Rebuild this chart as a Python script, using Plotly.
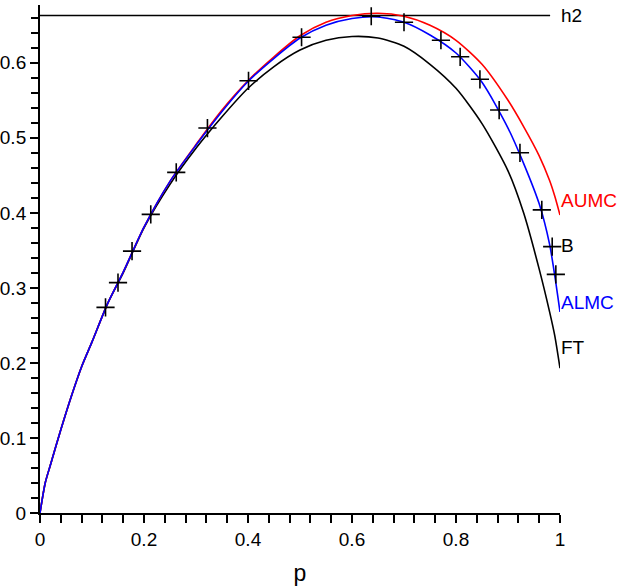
import plotly.graph_objects as go

# curve samples
p = [0, 0.01, 0.02, 0.04, 0.06, 0.08, 0.10, 0.13, 0.16, 0.20, 0.25, 0.30, 0.35,
     0.40, 0.45, 0.50, 0.55, 0.60, 0.65, 0.70, 0.75, 0.80, 0.85, 0.90, 0.93,
     0.96, 0.98, 0.99, 1.0]
aumc = [0, 0.040, 0.064, 0.111, 0.155, 0.195, 0.228, 0.279, 0.321, 0.381, 0.442, 0.491, 0.537,
        0.576, 0.608, 0.636, 0.654, 0.663, 0.666, 0.662, 0.650, 0.630, 0.598, 0.550, 0.515,
        0.476, 0.443, 0.422, 0.397]
almc = [0, 0.040, 0.064, 0.111, 0.155, 0.195, 0.228, 0.279, 0.321, 0.381, 0.442, 0.490, 0.535,
        0.575, 0.606, 0.633, 0.650, 0.659, 0.661, 0.654, 0.637, 0.613, 0.574, 0.513, 0.466,
        0.412, 0.358, 0.316, 0.268]
ft = [0, 0.040, 0.064, 0.111, 0.155, 0.195, 0.228, 0.279, 0.320, 0.380, 0.438, 0.486, 0.528,
      0.566, 0.595, 0.617, 0.630, 0.635, 0.633, 0.622, 0.598, 0.566, 0.519, 0.456, 0.400,
      0.325, 0.268, 0.236, 0.193]

# B points
b_p = [0.126, 0.150, 0.177, 0.213, 0.262, 0.322, 0.401, 0.503, 0.637, 0.700, 0.771,
       0.808, 0.846, 0.883, 0.923, 0.965, 0.985, 0.992]
b_y = [0.274, 0.307, 0.349, 0.398, 0.454, 0.513, 0.576, 0.634, 0.662, 0.654, 0.630,
       0.608, 0.578, 0.537, 0.480, 0.404, 0.355, 0.318]

h2 = 0.663

FONT = "Liberation Sans, Arial, sans-serif"

fig = go.Figure()
fig.add_trace(go.Scatter(x=[0, 0.981], y=[h2, h2], mode="lines",
                         line=dict(color="black", width=1.6), cliponaxis=False))
for ys, col in [(ft, "black"), (aumc, "#ff0000"), (almc, "#0000ff")]:
    fig.add_trace(go.Scatter(x=p, y=ys, mode="lines", cliponaxis=False,
                             line=dict(color=col, width=1.6, shape="spline", smoothing=0.7)))
fig.add_trace(go.Scatter(x=b_p, y=b_y, mode="markers", cliponaxis=False,
                         marker=dict(symbol="cross-thin", size=13, color="black",
                                     line=dict(color="black", width=1.6))))

# labels at curve ends
labels = [("h2", h2, "black"), ("AUMC", 0.417, "#ff0000"), ("B", 0.356, "black"),
          ("ALMC", 0.280, "#0000ff"), ("FT", 0.220, "black")]
for txt, yv, col in labels:
    fig.add_annotation(x=1.0, y=yv, text=txt, showarrow=False, xanchor="left",
                       xshift=-1, font=dict(family=FONT, size=19, color=col))

fig.update_layout(
    width=623, height=586,
    margin=dict(l=40, r=63, t=5, b=73),
    plot_bgcolor="white", paper_bgcolor="white",
    showlegend=False,
    font=dict(family=FONT, size=19, color="black"),
)
fig.update_xaxes(range=[0, 1], showgrid=False, zeroline=False, automargin=False,
                 showline=True, linecolor="black", linewidth=2,
                 ticks="outside", tickcolor="black", ticklen=8, tickwidth=2,
                 tickvals=[0, 0.2, 0.4, 0.6, 0.8, 1],
                 ticktext=["0", "0.2", "0.4", "0.6", "0.8", "1"],
                 minor=dict(dtick=0.04, ticks="outside", ticklen=8,
                            tickwidth=1.5, tickcolor="black"),
                 title=dict(text="p", standoff=16))
fig.update_yaxes(range=[0, 0.677], showgrid=False, zeroline=False, automargin=False,
                 showline=True, linecolor="black", linewidth=2,
                 ticks="outside", tickcolor="black", ticklen=8, tickwidth=2,
                 tickvals=[0, 0.1, 0.2, 0.3, 0.4, 0.5, 0.6],
                 ticktext=["0", "0.1", "0.2", "0.3", "0.4", "0.5", "0.6"],
                 minor=dict(dtick=0.02, ticks="outside", ticklen=7,
                            tickwidth=1.5, tickcolor="black"))

# drop the page's default body margin so the figure sits at the window corner
fig.write_html("out.html", config={"displayModeBar": False},
               post_script="document.body.style.margin = '0';")
